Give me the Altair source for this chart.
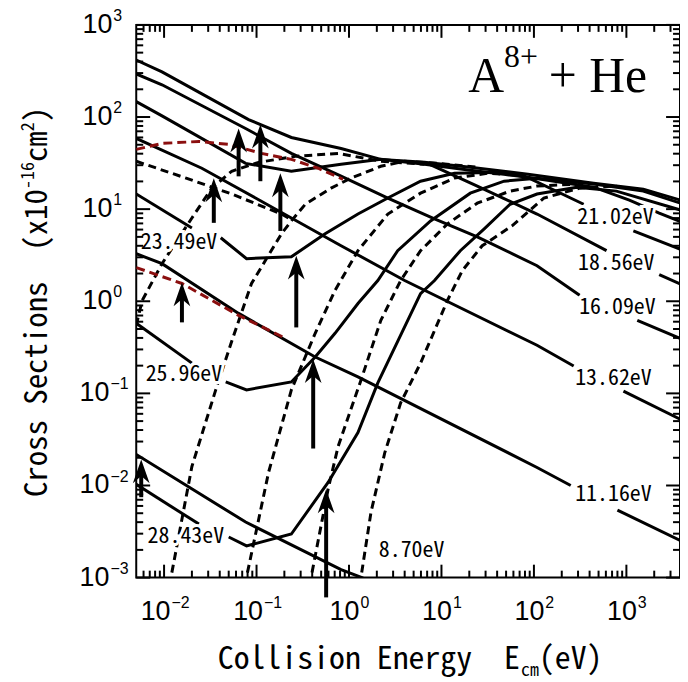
import altair as alt
import pandas as pd

MONO = "'Noto Sans Mono CJK JP', 'Noto Sans CJK JP', 'DejaVu Sans Mono', monospace"
SANS = "'Liberation Sans', Arial, sans-serif"
SERIF = "'Liberation Serif', 'Times New Roman', serif"
NB = "\u00a0"

W, H = 547, 556
E_RANGE = [0.005, 3800]
S_RANGE = [0.001, 1000]

# ---------------- solid curves (E_cm in eV, sigma in 1e-16 cm^2) ----------------
env_E = [0.005, 0.0095, 0.082, 0.238, 0.821, 2.21, 6.56, 20.5, 86.1, 442, 1524, 4200]
env_S = [416, 309, 93.7, 60.0, 45.6, 34.7, 32.2, 28.5, 23.9, 19.1, 16.5, 12.2]

c1609a_E = [0.005, 0.0095, 0.0762, 0.238, 0.821, 2.63, 8.41, 24.4, 108, 312]
c1609a_S = [294, 224, 75.0, 40.3, 22.8, 13.2, 7.82, 5.00, 2.43, 1.16]
c1609b_E = [1312, 4200]
c1609b_S = [0.621, 0.378]

vtop_E = [0.005, 0.0095, 0.0762, 0.238, 0.821, 2.21, 6.56, 20.5, 86.1, 442, 1077, 2264, 4200]
vtop_S = [147, 103, 31.4, 25.8, 30.7, 34.7, 30.7, 26.4, 22.2, 17.3, 12.5, 9.07, 7.08]

c1362a_E = [0.005, 0.0256, 0.0975, 0.821, 4.00, 108, 269]
c1362a_S = [58.5, 27.8, 13.2, 4.01, 1.68, 0.333, 0.198]
c1362b_E = [929, 4100]
c1362b_S = [0.106, 0.0505]

v2349a_E = [0.005, 0.020]
v2349a_S = [14.6, 6.25]
v2349b_E = [0.041, 0.078, 0.238, 0.552, 1.25, 2.63, 5.94, 13.8, 45.3, 84.1, 345]
v2349b_S = [4.89, 2.90, 3.04, 5.40, 8.85, 13.2, 20.1, 24.5, 25.1, 22.2, 11.3]
c2102b_E = [1189, 4200]
c2102b_S = [5.81, 3.54]

c1856a_E = [7.06, 24.4, 108, 610]
c1856a_S = [31.4, 17.8, 8.85, 3.54]
c1856b_E = [2264, 4200]
c1856b_S = [1.95, 1.48]

c1116a_E = [0.005, 0.0095, 0.064, 0.431, 1.25, 108, 250]
c1116a_S = [3.28, 2.56, 0.738, 0.248, 0.151, 0.0157, 0.0100]
c1116b_E = [800, 4100]
c1116b_S = [0.0054, 0.00244]

v2596a_E = [0.005, 0.020]
v2596a_S = [0.576, 0.213]
v2596b_E = [0.0464, 0.078, 0.238, 0.431, 0.706, 1.25, 2.05, 3.36, 7.62, 20.5, 47.6, 108, 442, 1524, 4200]
v2596b_S = [0.133, 0.109, 0.133, 0.248, 0.449, 0.946, 1.68, 3.54, 7.45, 14.9, 20.1, 21.7, 18.7, 15.7, 11.3]

c870_E = [0.005, 0.0762, 0.821, 1.38, 2.05]
c870_S = [0.0217, 0.00401, 0.00122, 0.00100, 0.00082]

v2843a_E = [0.005, 0.0238]
v2843a_S = [0.0103, 0.00381]
v2843b_E = [0.05, 0.078, 0.238, 0.594, 1.25, 2.05, 5.94, 8.41, 16.0, 29.0, 55.2, 108, 290, 780, 4200]
v2843b_S = [0.00276, 0.00221, 0.00297, 0.0108, 0.0375, 0.130, 1.21, 1.68, 3.54, 6.11, 11.3, 14.6, 17.3, 15.7, 9.54]

# ---------------- black dashed curves ----------------
dfall_E = [0.005, 0.0173, 0.0539, 0.186, 0.221]
dfall_S = [33.1, 21.7, 14.6, 8.85, 8.02]
da_E = [0.005, 0.0058, 0.0095, 0.020, 0.0328, 0.0539, 0.105, 0.262, 0.762, 2.21, 6.56]
da_S = [0.548, 1.02, 2.56, 8.02, 16.9, 25.8, 32.2, 37.4, 40.3, 33.1, 30.7]
db_E = [0.0108, 0.0119, 0.020, 0.0362, 0.0539, 0.0883, 0.186, 0.238, 0.337, 0.640, 1.05, 2.21, 4.00, 9.06, 24.4]
db_S = [0.0006, 0.00102, 0.0161, 0.109, 0.368, 1.56, 5.40, 7.45, 11.3, 16.9, 21.7, 29.2, 33.1, 31.4, 28.5]
dc_E = [0.0706, 0.078, 0.135, 0.238, 0.431, 0.706, 1.25, 2.63, 5.94, 13.8, 31.2, 84.1]
dc_S = [0.0006, 0.00102, 0.0139, 0.109, 0.449, 1.31, 3.54, 8.85, 14.9, 21.7, 24.5, 23.0]
dd_E = [0.362, 0.390, 0.594, 0.762, 1.35, 2.21, 3.62, 5.94, 11.6, 24.4, 55.2, 108, 290]
dd_S = [0.0006, 0.00102, 0.0091, 0.0265, 0.140, 0.621, 1.68, 3.54, 6.91, 11.6, 15.7, 17.8, 18.7]
de_E = [1.25, 1.35, 1.73, 2.44, 3.62, 5.94, 11.6, 16.8, 27.6, 58.0, 128, 312, 780]
de_S = [0.0006, 0.00102, 0.00514, 0.0228, 0.0789, 0.213, 1.02, 2.15, 4.01, 6.58, 13.2, 16.9, 17.8]

# ---------------- red dashed curves ----------------
rup_E = [0.005, 0.0095, 0.0238, 0.05, 0.113, 0.238, 0.464, 0.861]
rup_S = [44.5, 51.7, 54.3, 50.4, 40.3, 34.7, 27.8, 21.1]
rlow_E = [0.005, 0.0156, 0.064, 0.205]
rlow_S = [2.32, 1.56, 0.703, 0.397]

# ---------------- arrows ----------------
arrow_E = [0.064, 0.110, 0.181, 0.0345, 0.0156, 0.269, 0.41, 0.00566, 0.566]
arrow_tip = [75.0, 82.8, 24.5, 21.6, 1.6, 3.12, 0.235, 0.0192, 0.0091]
arrow_base = [22.7, 20.1, 5.8, 7.1, 0.59, 0.52, 0.0252, 0.00746, 0.00061]

# ---------------- curve labels ----------------
lab_text = ["21.02eV", "18.56eV", "16.09eV", "13.62eV", "11.16eV", "23.49eV", "25.96eV", "28.43eV", "8.70eV"]
lab_E = [762, 776, 800, 724, 724, 0.0145, 0.0164, 0.0172, 4.75]
lab_S = [8.22, 2.62, 0.857, 0.147, 0.00803, 4.42, 0.162, 0.00283, 0.0020]

# ---------------- tick labels ----------------
xlab_val = [0.01, 0.1, 1, 10, 100, 1000]
xlab_exp = ["\u22122", "\u22121", "0", "1", "2", "3"]
ylab_val = [0.001, 0.01, 0.1, 1, 10, 100, 1000]
ylab_exp = ["\u22123", "\u22122", "\u22121", "0", "1", "2", "3"]

solid_curves = {
    "env": (env_E, env_S), "c1609a": (c1609a_E, c1609a_S), "c1609b": (c1609b_E, c1609b_S),
    "vtop": (vtop_E, vtop_S), "c1362a": (c1362a_E, c1362a_S), "c1362b": (c1362b_E, c1362b_S),
    "v2349a": (v2349a_E, v2349a_S), "v2349b": (v2349b_E, v2349b_S), "c2102b": (c2102b_E, c2102b_S),
    "c1856a": (c1856a_E, c1856a_S), "c1856b": (c1856b_E, c1856b_S),
    "c1116a": (c1116a_E, c1116a_S), "c1116b": (c1116b_E, c1116b_S),
    "v2596a": (v2596a_E, v2596a_S), "v2596b": (v2596b_E, v2596b_S),
    "c870": (c870_E, c870_S), "v2843a": (v2843a_E, v2843a_S), "v2843b": (v2843b_E, v2843b_S),
}
dashed_curves = {
    "dfall": (dfall_E, dfall_S), "da": (da_E, da_S), "db": (db_E, db_S),
    "dc": (dc_E, dc_S), "dd": (dd_E, dd_S), "de": (de_E, de_S),
}
red_curves = {"rup": (rup_E, rup_S), "rlow": (rlow_E, rlow_S)}


def to_long(curves):
    rows = []
    for name, (es, ss) in curves.items():
        for i, (e, s) in enumerate(zip(es, ss)):
            rows.append({"E": e, "S": s, "c": name, "i": i})
    return pd.DataFrame(rows)


xs = alt.Scale(type="log", domain=E_RANGE, nice=False)
ys = alt.Scale(type="log", domain=S_RANGE, nice=False)
X = alt.X("E:Q", scale=xs, axis=None)
Y = alt.Y("S:Q", scale=ys, axis=None)

solid = alt.Chart(to_long(solid_curves)).mark_line(color="black", strokeWidth=3, clip=True).encode(
    x=X, y=Y, detail="c:N", order="i:Q")
dashed = alt.Chart(to_long(dashed_curves)).mark_line(color="black", strokeWidth=3, strokeDash=[8, 5], clip=True).encode(
    x=X, y=Y, detail="c:N", order="i:Q")
red = alt.Chart(to_long(red_curves)).mark_line(color="#8b0f0f", strokeWidth=3, strokeDash=[9, 5], clip=True).encode(
    x=X, y=Y, detail="c:N", order="i:Q")

lab_df = pd.DataFrame({"t": lab_text, "E": lab_E, "S": lab_S})
lab_halo = alt.Chart(lab_df).mark_text(font=MONO, fontSize=22, align="center", baseline="middle",
                                       color="white", stroke="white", strokeWidth=6).encode(x=X, y=Y, text="t:N")
lab_txt = alt.Chart(lab_df).mark_text(font=MONO, fontSize=22, align="center", baseline="middle",
                                      color="black").encode(x=X, y=Y, text="t:N")

arr_df = pd.DataFrame({"E": arrow_E, "tip": arrow_tip, "base": arrow_base})
shaft = alt.Chart(arr_df).mark_rule(color="black", strokeWidth=4, yOffset=12, clip=False).encode(
    x=X, y=alt.Y("tip:Q", scale=ys, axis=None), y2="base:Q")
HEAD = "M0,0 L0.7,2 L0,1.4 L-0.7,2 Z"
head = alt.Chart(arr_df).mark_point(shape=HEAD, size=576, filled=True, color="black", opacity=1,
                                    strokeWidth=0, clip=False).encode(
    x=X, y=alt.Y("tip:Q", scale=ys, axis=None))

# ---- ticks (inward, on all four sides) ----
major_x = [0.01, 0.1, 1, 10, 100, 1000]
minor_x = [m * 10.0 ** k for k in range(-3, 4) for m in range(2, 10) if 0.0051 < m * 10.0 ** k < 3800]
major_y = [0.001, 0.01, 0.1, 1, 10, 100, 1000]
minor_y = [m * 10.0 ** k for k in range(-3, 3) for m in range(2, 10)]


def xticks(vals, y0, y1):
    return alt.Chart(pd.DataFrame({"v": vals})).mark_rule(color="black", strokeWidth=2).encode(
        x=alt.X("v:Q", scale=xs, axis=None), y=alt.value(y0), y2=alt.value(y1))


def yticks(vals, x0, x1):
    return alt.Chart(pd.DataFrame({"v": vals})).mark_rule(color="black", strokeWidth=2).encode(
        y=alt.Y("v:Q", scale=ys, axis=None), x=alt.value(x0), x2=alt.value(x1))


ticks = [
    xticks(major_x, 0, 13), xticks(minor_x, 0, 7),
    xticks(major_x, H, H - 13), xticks(minor_x, H, H - 7),
    yticks(major_y, 0, 14), yticks(minor_y, 0, 7),
    yticks(major_y, W, W - 14), yticks(minor_y, W, W - 7),
]

# ---- tick labels (10 with superscript exponent) ----
xl = pd.DataFrame({"v": xlab_val, "exp": xlab_exp})
xl_neg = xl[xl["exp"].str.startswith("\u2212")]
xl_pos = xl[~xl["exp"].str.startswith("\u2212")]
yl = pd.DataFrame({"v": ylab_val, "exp": ylab_exp})
yl_neg = yl[yl["exp"].str.startswith("\u2212")]
yl_pos = yl[~yl["exp"].str.startswith("\u2212")]

XV = alt.X("v:Q", scale=xs, axis=None)
YV = alt.Y("v:Q", scale=ys, axis=None)
LY = H + 35


def xlabels(df, dx):
    base = alt.Chart(df).mark_text(font=SANS, fontSize=27, align="right", baseline="middle", dx=dx,
                                   color="black").encode(x=XV, y=alt.value(LY), text=alt.value("10"))
    ex = alt.Chart(df).mark_text(font=SANS, fontSize=16, align="left", baseline="middle", dx=dx + 1, dy=-9,
                                 color="black").encode(x=XV, y=alt.value(LY), text="exp:N")
    return [base, ex]


def ylabels(df, xr):
    base = alt.Chart(df).mark_text(font=SANS, fontSize=27, align="right", baseline="middle",
                                   color="black").encode(y=YV, x=alt.value(xr), text=alt.value("10"))
    ex = alt.Chart(df).mark_text(font=SANS, fontSize=16, align="left", baseline="middle", dy=-9,
                                 color="black").encode(y=YV, x=alt.value(xr + 1), text="exp:N")
    return [base, ex]


tick_labels = xlabels(xl_neg, 6.5) + xlabels(xl_pos, 10.5) + ylabels(yl_neg, -27) + ylabels(yl_pos, -24)


def txt(s, x, y, size, font, angle=0, align="left", baseline="alphabetic"):
    return alt.Chart(pd.DataFrame({"t": [s]})).mark_text(
        font=font, fontSize=size, angle=angle, align=align, baseline=baseline, color="black").encode(
        x=alt.value(x), y=alt.value(y), text="t:N")


titles = [
    # x-axis title
    txt("Collision" + NB + "Energy" + NB + NB + "E", 82, 648, 32, MONO),
    txt("cm", 387, 655, 18, MONO),
    txt("(eV)", 405, 648, 32, MONO),
    # y-axis title (rotated)
    txt("Cross" + NB + "Sections" + NB + NB + "(x10", -90, 475, 31, MONO, angle=270),
    txt("-16", -103, 165, 18, MONO, angle=270),
    txt("cm", -90, 138, 31, MONO, angle=270),
    txt("2", -103, 107, 18, MONO, angle=270),
    txt(")", -90, 98, 31, MONO, angle=270),
    # panel title A^8+ + He
    txt("A", 334, 67, 50, SERIF),
    txt("8+", 370, 42, 32, SERIF),
    txt("+" + NB + "He", 415, 67, 50, SERIF),
]

chart = alt.layer(
    solid, dashed, red, lab_halo, lab_txt, shaft, head, *ticks, *tick_labels, *titles
).properties(
    width=W, height=H,
    padding={"left": 129, "top": 15, "right": 0, "bottom": 103},
    autosize=alt.AutoSizeParams(type="none"),
    background="white",
).configure_view(stroke="black", strokeWidth=2)

chart.save("out.html", embed_options={"renderer": "svg", "actions": False})
